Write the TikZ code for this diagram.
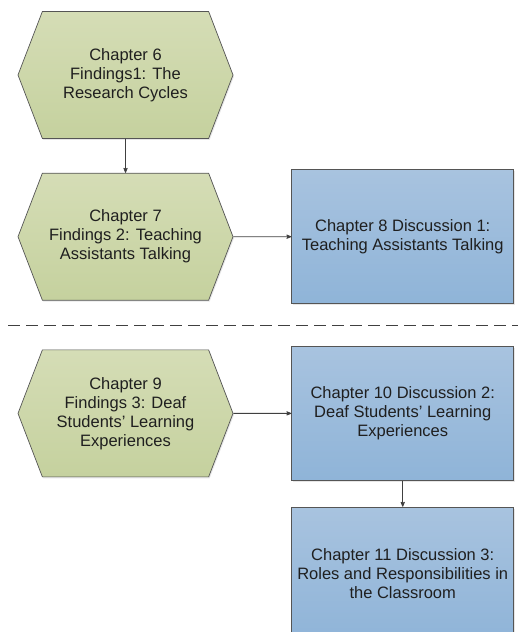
\documentclass[tikz,border=0pt]{standalone}
\usepackage{fontspec}
\setmainfont{Liberation Sans}
\usetikzlibrary{arrows,positioning,shapes.symbols,shadows}
\definecolor{hexTop}{RGB}{213,221,182}
\definecolor{hexBot}{RGB}{197,209,158}
\definecolor{boxTop}{RGB}{168,195,223}
\definecolor{boxBot}{RGB}{143,180,216}
\definecolor{rand}{RGB}{85,85,85}
\definecolor{pilfarge}{RGB}{64,64,64}
\tikzset{
    %Define standard arrow tip
    >=stealth',
    %Define style for findings hexagons
    sekskant/.style={
           signal,
           signal to=west and east,
           signal pointer angle=138,
           draw=rand, line width=0.7pt,
           top color=hexTop, bottom color=hexBot,
           drop shadow={opacity=0.2, shadow xshift=1pt, shadow yshift=-1.5pt},
           text=black!88,
           minimum width=215pt,
           minimum height=127pt,
           inner sep=0pt,
           align=center,
           font=\fontsize{16.5}{19}\selectfont},
    %Define style for discussion boxes
    kasse/.style={
           rectangle,
           draw=rand, line width=0.7pt,
           top color=boxTop, bottom color=boxBot,
           drop shadow={opacity=0.2, shadow xshift=1pt, shadow yshift=-1.5pt},
           text=black!88,
           minimum width=222pt,
           minimum height=134pt,
           inner sep=0pt,
           align=center,
           font=\fontsize{16.5}{19}\selectfont},
    % Define arrow style
    pil/.style={
           ->,
           draw=pilfarge,
           line width=0.8pt},
    % Define separator style
    skille/.style={
           draw=pilfarge,
           line width=0.9pt,
           dash pattern=on 12pt off 6pt}
}
\begin{document}
\begin{tikzpicture}[x=1pt, y=1pt]
 \useasboundingbox (0,0) rectangle (518,632);

 \node[sekskant] (ch6) at (125.5,557) {Chapter 6\\Findings1: The\\Research Cycles};
 \node[sekskant, below=34pt of ch6] (ch7) {Chapter 7\\Findings 2: Teaching\\Assistants Talking};
 \node[kasse, right=58pt of ch7] (ch8) {Chapter 8 Discussion 1:\\Teaching Assistants Talking};
 \node[sekskant, below=49pt of ch7] (ch9) {Chapter 9\\Findings 3: Deaf\\Students' Learning\\Experiences};
 \node[kasse, right=58pt of ch9] (ch10) {Chapter 10 Discussion 2:\\Deaf Students' Learning\\Experiences};
 \node[kasse, below=26pt of ch10] (ch11) {Chapter 11 Discussion 3:\\Roles and Responsibilities in\\the Classroom};

 \coordinate (skilleV) at (8,307);
 \coordinate (skilleH) at (518,307);
 \draw[skille] (skilleV) -- (skilleH);

 \draw[pil] (ch6) -- (ch7);
 \draw[pil] (ch7) -- (ch8);
 \draw[pil] (ch9) -- (ch10);
 \draw[pil] (ch10) -- (ch11);
\end{tikzpicture}
\end{document}
